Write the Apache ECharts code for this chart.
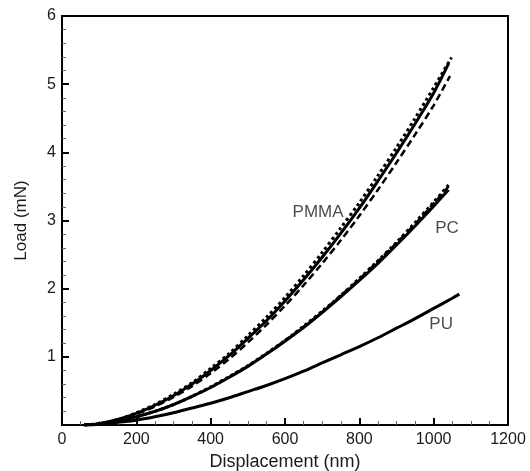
<!DOCTYPE html>
<html>
<head>
<meta charset="utf-8">
<script src="https://cdn.jsdelivr.net/npm/echarts@6/dist/echarts.min.js"></script>
<style>
  html, body { margin: 0; padding: 0; background: #fff; }
  #chart { width: 530px; height: 471px; }
</style>
</head>
<body>
<div id="chart"></div>
<script>
// displacement (nm) sample points shared by the curves
const disp = [60, 100, 150, 200, 250, 300, 350, 400, 450, 500, 550, 600, 650, 700, 750, 800, 850, 900, 950, 1000];

// load (mN)
const pmmaSolid  = [0, 0.02, 0.08, 0.17, 0.29, 0.43, 0.60, 0.80, 1.02, 1.27, 1.53, 1.82, 2.13, 2.46, 2.81, 3.18, 3.58, 3.99, 4.42, 4.87];
const pmmaDotted = [0, 0.02, 0.08, 0.18, 0.30, 0.45, 0.62, 0.83, 1.05, 1.31, 1.58, 1.87, 2.19, 2.53, 2.89, 3.26, 3.66, 4.07, 4.50, 4.95];
const pmmaDashed = [0, 0.01, 0.07, 0.16, 0.27, 0.41, 0.57, 0.76, 0.97, 1.21, 1.47, 1.75, 2.05, 2.37, 2.71, 3.07, 3.45, 3.85, 4.26, 4.69];
const pcSolid    = [0, 0.01, 0.05, 0.12, 0.20, 0.30, 0.42, 0.55, 0.70, 0.86, 1.04, 1.23, 1.43, 1.65, 1.88, 2.12, 2.37, 2.64, 2.92, 3.21];
const pcDotted   = [0, 0.01, 0.05, 0.12, 0.20, 0.30, 0.42, 0.56, 0.71, 0.87, 1.05, 1.24, 1.45, 1.67, 1.90, 2.15, 2.41, 2.68, 2.97, 3.27];
const pcDashed   = [0, 0.01, 0.05, 0.12, 0.20, 0.30, 0.42, 0.55, 0.70, 0.86, 1.04, 1.24, 1.44, 1.66, 1.90, 2.14, 2.40, 2.67, 2.95, 3.25];
const puSolid    = [0, 0.01, 0.04, 0.07, 0.12, 0.18, 0.25, 0.32, 0.40, 0.49, 0.58, 0.68, 0.79, 0.91, 1.03, 1.15, 1.28, 1.42, 1.56, 1.71];

// last point of each curve [x, y]
const pmmaSolidEnd  = [1040, 5.30];
const pmmaDottedEnd = [1048, 5.39];
const pmmaDashedEnd = [1044, 5.12];
const pcSolidEnd    = [1040, 3.45];
const pcDottedEnd   = [1045, 3.55];
const pcDashedEnd   = [1040, 3.50];
const puSolidEnd    = [[1050, 1.86], [1069, 1.92]];

// curve labels
const labelNames = ['PMMA', 'PC', 'PU'];
const labelX = [689, 1036, 1020];
const labelY = [3.12, 2.88, 1.47];

const xTicks = [0, 200, 400, 600, 800, 1000, 1200];

function pts(ys, tail) {
  const out = disp.map((x, i) => [x, ys[i]]);
  return out.concat(Array.isArray(tail[0]) ? tail : [tail]);
}

const FONT = 'Liberation Sans, Arial, sans-serif';
const TEXT = '#1a1a1a';

function line(name, data, type, width) {
  return {
    name, type: 'line', data,
    showSymbol: false, smooth: 0.3,
    lineStyle: { color: '#000', width, type },
    silent: true
  };
}

const chart = echarts.init(document.getElementById('chart'));
chart.setOption({
  animation: false,
  backgroundColor: '#fff',
  grid: {
    left: 62, right: 22, top: 16, bottom: 46,
    outerBoundsMode: 'none', containLabel: false,
    show: true, borderColor: '#000', borderWidth: 2
  },
  xAxis: {
    type: 'value', min: 0, max: 1200, interval: 200,
    name: 'Displacement (nm)', nameLocation: 'middle', nameGap: 27,
    nameTextStyle: { fontFamily: FONT, fontSize: 18, color: TEXT },
    axisLine: { lineStyle: { color: '#000', width: 2 } },
    axisTick: { inside: true, length: 7, lineStyle: { color: '#000', width: 2 } },
    minorTick: { show: true, splitNumber: 4, length: 4, lineStyle: { color: '#666', width: 1 } },
    splitLine: { show: false },
    axisLabel: {
      margin: 7, fontFamily: FONT, fontSize: 16, color: TEXT,
      formatter: v => xTicks.includes(v) ? String(v) : ''
    }
  },
  yAxis: {
    type: 'value', min: 0, max: 6, interval: 1,
    name: 'Load (mN)', nameLocation: 'middle', nameGap: 32,
    nameTextStyle: { fontFamily: FONT, fontSize: 17, color: TEXT },
    axisLine: { lineStyle: { color: '#000', width: 2 } },
    axisTick: { inside: true, length: 7, lineStyle: { color: '#000', width: 2 } },
    minorTick: { show: true, splitNumber: 5, length: 4, lineStyle: { color: '#666', width: 1 } },
    splitLine: { show: false },
    axisLabel: {
      margin: 6, fontFamily: FONT, fontSize: 16, color: TEXT,
      formatter: v => v === 0 ? '' : String(v)
    }
  },
  series: [
    line('PMMA', pts(pmmaSolid, pmmaSolidEnd), 'solid', 3),
    line('PMMA dotted', pts(pmmaDotted, pmmaDottedEnd), 'dotted', 3),
    line('PMMA dashed', pts(pmmaDashed, pmmaDashedEnd), [7, 4], 2.5),
    line('PC', pts(pcSolid, pcSolidEnd), 'solid', 3),
    line('PC dotted', pts(pcDotted, pcDottedEnd), 'dotted', 3),
    line('PC dashed', pts(pcDashed, pcDashedEnd), [7, 4], 2.5),
    line('PU', pts(puSolid, puSolidEnd), 'solid', 3),
    {
      type: 'scatter', symbolSize: 0, silent: true,
      data: labelNames.map((n, i) => ({ name: n, value: [labelX[i], labelY[i]] })),
      label: {
        show: true, position: 'inside', formatter: p => p.name,
        fontFamily: FONT, fontSize: 17, color: TEXT
      }
    }
  ]
});
</script>
</body>
</html>
